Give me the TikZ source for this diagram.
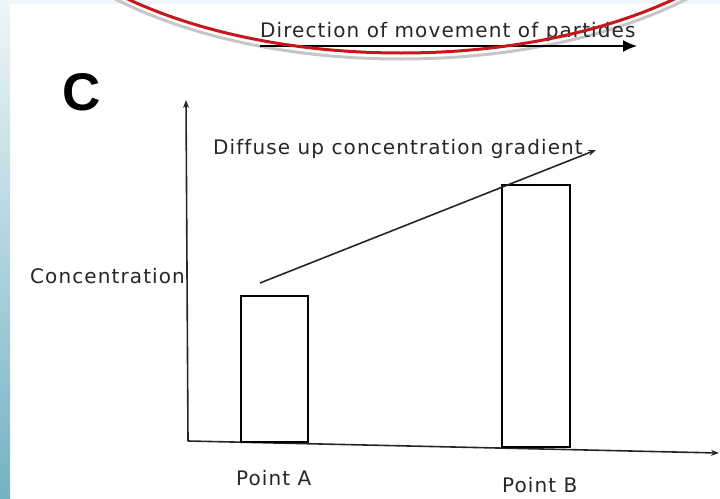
\documentclass[tikz,border=0pt]{standalone}
\usepackage{fontspec}
\setmainfont{DejaVu Sans}[LetterSpace=5.5,Ligatures=NoCommon]
\newfontfamily\panelfont{Liberation Sans}
\usetikzlibrary{arrows.meta,positioning}
\definecolor{SlideRed}{HTML}{C8161D}
\definecolor{ShadowGray}{HTML}{C6C6C6}
\definecolor{StripTop}{HTML}{EEF6F9}
\definecolor{StripMid}{HTML}{B9D9E3}
\definecolor{StripBot}{HTML}{74B2C3}
\definecolor{InkGray}{HTML}{262626}

\tikzset{
  lbl/.style={font=\fontsize{20}{23}\selectfont, text=InkGray, inner sep=0pt, anchor=base west},
  axis/.style={line width=1.6pt, draw=InkGray, -{Stealth[length=8pt,width=6pt]}},
  bar/.style={draw=black, line width=1.6pt, anchor=south west, inner sep=0pt},
}

\begin{document}
\begin{tikzpicture}[x=1pt,y=-1pt]
    \useasboundingbox (0,0) rectangle (720,498);
    % Slide background strips
    \fill[StripTop] (0,0) rectangle (720,4);
    \shade[top color=StripTop, middle color=StripMid, bottom color=StripBot] (0,0) rectangle (10,498);
    \begin{scope}
      \clip (10,0) rectangle (720,498);
      % Shadow of the red ring
      \draw[ShadowGray, line width=3pt] (401,-141) ellipse [x radius=400, y radius=200];
    \end{scope}
    % Heading arrow
    \node[lbl] (dirtext) at (260,37) {Direction of movement of partides};
    \coordinate (dirstart) at (260,46);
    \coordinate (dirend) at (637,46);
    \draw[line width=1.6pt, -{Latex[length=14pt,width=12pt]}] (dirstart) -- (dirend);
    \begin{scope}
      \clip (10,0) rectangle (720,498);
      % Red ring
      \draw[SlideRed, line width=3pt] (401,-147) ellipse [x radius=400, y radius=200];
    \end{scope}
    % Panel letter
    \node[font=\panelfont\bfseries\fontsize{53}{60}\selectfont, inner sep=0pt, anchor=base west] (panel) at (62,110) {C};
    % Axes
    \coordinate (origin) at (188,441);
    \coordinate (ytip) at (186,100);
    \coordinate (xtip) at (719,453);
    \draw[axis] (origin) -- (ytip);
    \draw[axis] (origin) -- (xtip);
    % Bars
    \node[bar, minimum width=67, minimum height=146] (barA) at (240,442.5) {};
    \node[bar, minimum width=68, minimum height=262] (barB) at (501,448) {};
    % Labels
    \node[lbl] (ylabel) at (30,283) {Concentration};
    \node[lbl] (labA) at (236,485) {Point A};
    \node[lbl] (labB) at (502,492) {Point B};
    \node[lbl] (gradtext) at (213,154) {Diffuse up concentration gradient};
    % Gradient arrow
    \coordinate (gstart) at (260,283);
    \coordinate (gend) at (596,150);
    \draw[line width=1.6pt, draw=InkGray, -{Stealth[length=8pt,width=6pt]}] (gstart) -- (gend);
\end{tikzpicture}
\end{document}
